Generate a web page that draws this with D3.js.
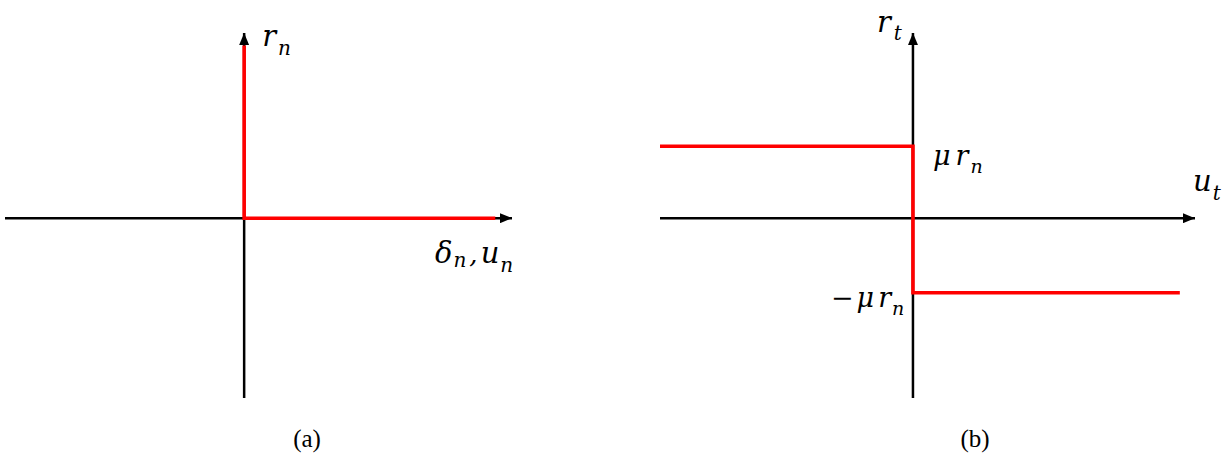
<!DOCTYPE html>
<html>
<head>
<meta charset="utf-8">
<script src="https://cdn.jsdelivr.net/npm/d3@7"></script>
<style>
  body { margin: 0; background: #fff; }
  svg { display: block; }
  .axis { stroke: #000; stroke-width: 2.5; fill: none; }
  .law { stroke: #ff0000; stroke-width: 3.6; fill: none; }
</style>
</head>
<body>
<div id="chart"></div>
<script>
// (a) normal contact law: r_n >= 0 only at delta_n = 0
var normalLaw = [[0, 0.96], [0, 0], [1.05, 0]];
// (b) Coulomb friction: +mu r_n for u_t < 0, -mu r_n for u_t > 0
var muRn = 0.4, muRnNeg = -0.415;
var frictionLaw = [[-1, muRn], [0, muRn], [0, muRnNeg], [1.055, muRnNeg]];
var captions = ["(a)", "(b)"];

var width = 1225, height = 459;
var mathFont = "'DejaVu Serif', 'Liberation Serif', serif";
var capFont = "'Liberation Serif', 'DejaVu Serif', serif";

var svg = d3.select("#chart").append("svg")
    .attr("width", width)
    .attr("height", height);

var defs = svg.append("defs");
defs.append("marker")
    .attr("id", "arrow")
    .attr("viewBox", "0 0 12 10")
    .attr("refX", 12).attr("refY", 5)
    .attr("markerWidth", 12).attr("markerHeight", 10)
    .attr("markerUnits", "userSpaceOnUse")
    .attr("orient", "auto")
  .append("path")
    .attr("d", "M0,0 L12,5 L0,10 Z")
    .attr("fill", "#000");

var y = d3.scaleLinear().domain([-1, 1.03]).range([398, 33]);

var line = function(xs) {
  return d3.line().x(function(d) { return xs(d[0]); }).y(function(d) { return y(d[1]); });
};

var mathText = function(g, x, yy) {
  return g.append("text")
      .attr("font-family", mathFont)
      .attr("font-style", "italic")
      .attr("fill", "#000")
      .attr("x", x).attr("y", yy);
};

// ---- panel (a)
var xa = d3.scaleLinear().domain([-1, 1.12]).range([5, 512]);
var ga = svg.append("g");

ga.append("line").attr("class", "axis")
    .attr("x1", xa(-1)).attr("y1", y(0))
    .attr("x2", xa(1.12)).attr("y2", y(0))
    .attr("marker-end", "url(#arrow)");
ga.append("line").attr("class", "axis")
    .attr("x1", xa(0)).attr("y1", y(-1))
    .attr("x2", xa(0)).attr("y2", y(1.03))
    .attr("marker-end", "url(#arrow)");

ga.append("path").datum(normalLaw)
    .attr("class", "law")
    .attr("stroke-linejoin", "miter")
    .attr("d", line(xa));

var rn = mathText(ga, xa(0) + 18, y(0.96));
rn.append("tspan").attr("font-size", 29).text("r");
rn.append("tspan").attr("font-size", 20).attr("dy", 9).attr("dx", 2).text("n");

var du = mathText(ga, xa(1.12) - 77, y(0) + 45);
du.append("tspan").attr("font-size", 29).text("δ");
du.append("tspan").attr("font-size", 20).attr("dy", 4).attr("dx", 1).text("n");
du.append("tspan").attr("font-size", 26).attr("dy", -4).attr("dx", 3).text(",");
du.append("tspan").attr("font-size", 29).attr("dx", 3).text("u");
du.append("tspan").attr("font-size", 20).attr("dy", 9).attr("dx", 1).text("n");

// ---- panel (b)
var xb = d3.scaleLinear().domain([-1, 1.115]).range([660, 1195]);
var gb = svg.append("g");

gb.append("line").attr("class", "axis")
    .attr("x1", xb(-1)).attr("y1", y(0))
    .attr("x2", xb(1.115)).attr("y2", y(0))
    .attr("marker-end", "url(#arrow)");
gb.append("line").attr("class", "axis")
    .attr("x1", xb(0)).attr("y1", y(-1))
    .attr("x2", xb(0)).attr("y2", y(1.03))
    .attr("marker-end", "url(#arrow)");

gb.append("path").datum(frictionLaw)
    .attr("class", "law")
    .attr("stroke-linejoin", "miter")
    .attr("d", line(xb));

var rt = mathText(gb, xb(0) - 36, 32);
rt.append("tspan").attr("font-size", 29).text("r");
rt.append("tspan").attr("font-size", 20).attr("dy", 8).attr("dx", 3).text("t");

var ut = mathText(gb, xb(1.115) - 2, y(0) - 27);
ut.append("tspan").attr("font-size", 29).text("u");
ut.append("tspan").attr("font-size", 20).attr("dy", 9).attr("dx", 1).text("t");

var mu = mathText(gb, xb(0) + 20, y(muRn) + 19);
mu.append("tspan").attr("font-size", 27).text("μ");
mu.append("tspan").attr("font-size", 27).attr("dx", 5).text("r");
mu.append("tspan").attr("font-size", 19).attr("dy", 8).attr("dx", 2).text("n");

var mun = mathText(gb, xb(0) - 82, y(muRnNeg) + 14);
mun.append("tspan").attr("font-size", 27).attr("font-style", "normal").text("−");
mun.append("tspan").attr("font-size", 27).attr("dx", 3).text("μ");
mun.append("tspan").attr("font-size", 27).attr("dx", 4).text("r");
mun.append("tspan").attr("font-size", 19).attr("dy", 8).attr("dx", 1).text("n");

// ---- captions
svg.selectAll(".cap").data(captions).enter().append("text")
    .attr("class", "cap")
    .attr("font-family", capFont)
    .attr("font-size", 25)
    .attr("fill", "#000")
    .attr("x", function(d, i) { return i === 0 ? 307 : 975; })
    .attr("y", 447)
    .attr("text-anchor", "middle")
    .text(function(d) { return d; });
</script>
</body>
</html>
